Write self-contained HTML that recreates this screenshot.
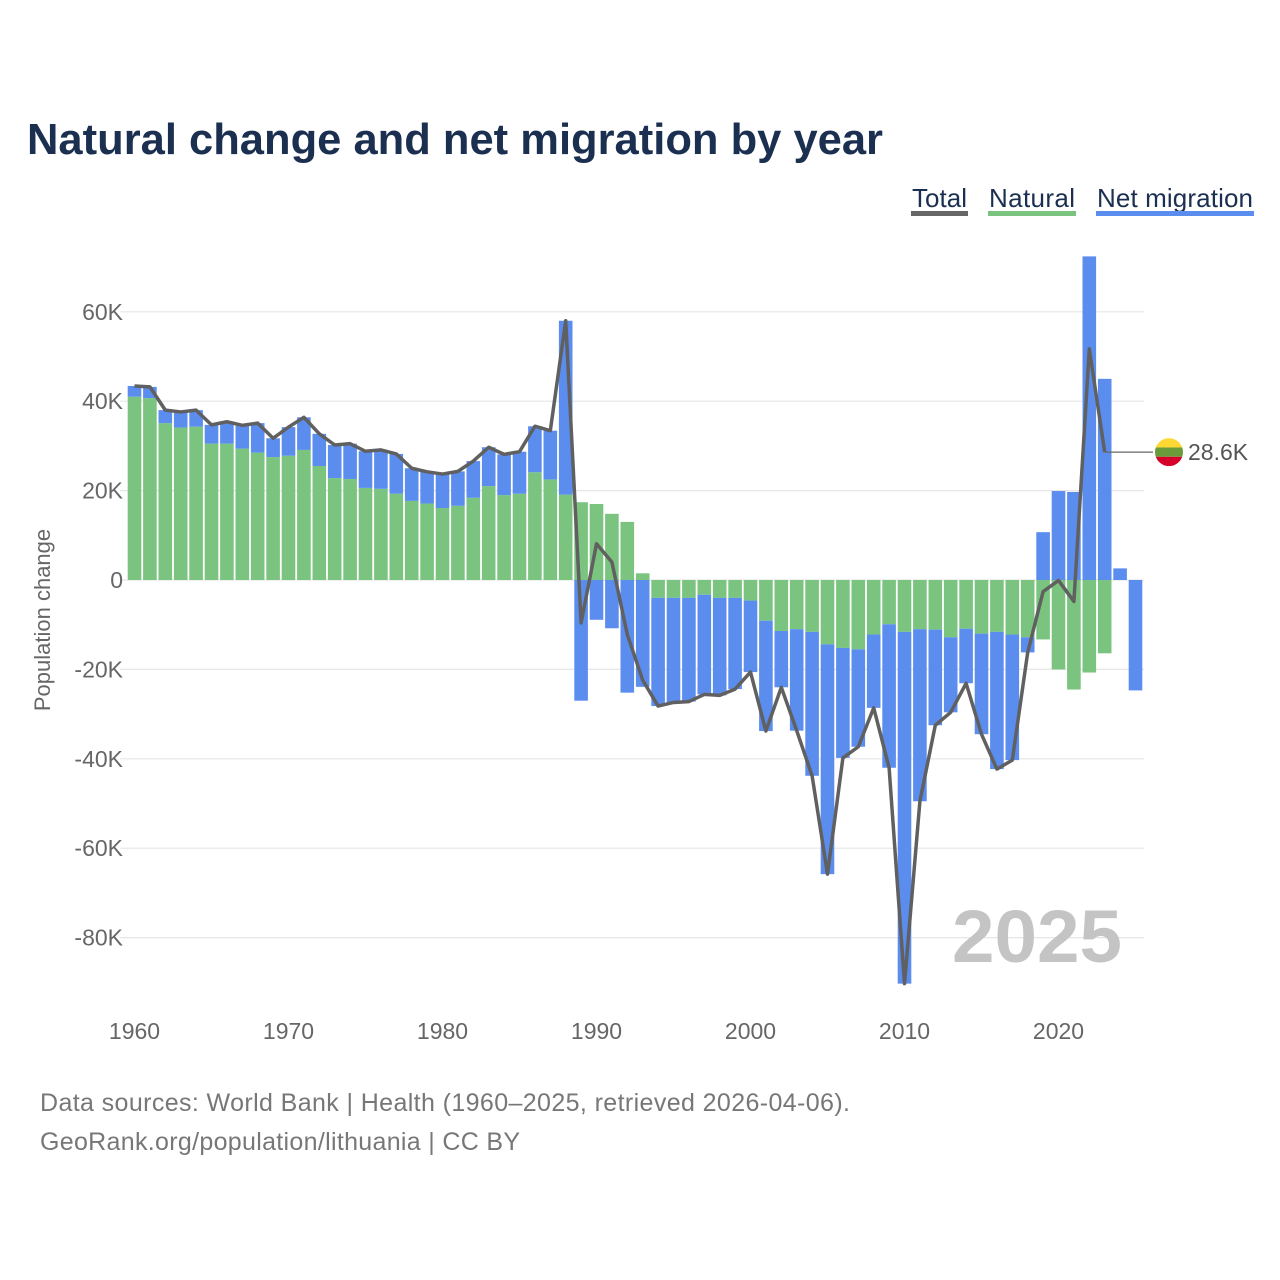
<!DOCTYPE html>
<html><head><meta charset="utf-8">
<style>
body{margin:0;background:#fff;}
svg{display:block;font-family:"Liberation Sans",sans-serif;}
</style></head>
<body>
<svg id="chart" width="1280" height="1280" viewBox="0 0 1280 1280">
<text x="27" y="154" font-size="44" font-weight="bold" fill="#1b2f50" textLength="856" lengthAdjust="spacingAndGlyphs">Natural change and net migration by year</text>
<g>
<g><text x="912" y="207" font-size="26" fill="#1b2f50" textLength="55">Total</text><rect x="911" y="211" width="57" height="5" fill="#666"/></g>
<g><text x="989" y="207" font-size="26" fill="#1b2f50" textLength="86">Natural</text><rect x="988" y="211" width="88" height="5" fill="#7bc47f"/></g>
<g><text x="1097" y="207" font-size="26" fill="#1b2f50" textLength="156">Net migration</text><rect x="1096" y="211" width="158" height="5" fill="#5b8def"/></g>
</g>
<g id="grid"></g>
<g id="yticks"></g>
<g id="xticks"></g>
<text x="0" y="0" transform="translate(50,620) rotate(-90)" text-anchor="middle" font-size="22" fill="#666">Population change</text>
<text x="1122" y="962" text-anchor="end" font-size="74" font-weight="bold" fill="#c4c4c4" textLength="170" lengthAdjust="spacingAndGlyphs">2025</text>
<g id="bars"></g>
<g id="lines"></g>
<text x="40" y="1111" font-size="25" fill="#777" textLength="810">Data sources: World Bank | Health (1960–2025, retrieved 2026-04-06).</text>
<text x="40" y="1150" font-size="25" fill="#777" textLength="480">GeoRank.org/population/lithuania | CC BY</text>
</svg>
<script>
const years=[];for(let y=1960;y<=2025;y++)years.push(y);
const natural=[41.0,40.7,35.1,34.1,34.3,30.5,30.5,29.4,28.5,27.5,27.8,29.1,25.5,22.8,22.6,20.6,20.4,19.3,17.7,17.1,16.1,16.6,18.4,21.0,19.0,19.3,24.1,22.5,19.1,17.4,17.0,14.8,13.0,1.5,-4.0,-4.0,-4.0,-3.3,-4.0,-4.0,-4.6,-9.1,-11.4,-11.0,-11.6,-14.4,-15.2,-15.5,-12.2,-9.9,-11.6,-11.0,-11.1,-12.8,-10.9,-12.0,-11.6,-12.2,-12.8,-13.3,-20.0,-24.5,-20.7,-16.4,null,null];
const migration=[2.4,2.5,2.9,3.5,3.7,4.2,4.9,5.2,6.6,4.2,6.4,7.3,7.2,7.4,7.9,8.2,8.7,8.9,7.3,7.1,7.6,7.7,8.2,8.7,9.1,9.4,10.3,10.9,38.9,-27.0,-8.9,-10.8,-25.2,-23.9,-24.2,-23.4,-23.2,-22.3,-21.8,-20.4,-16.0,-24.7,-12.6,-22.7,-32.2,-51.4,-24.6,-21.8,-16.4,-32.1,-78.7,-38.5,-21.4,-16.8,-12.2,-22.5,-30.7,-28.1,-3.4,10.7,19.9,19.7,72.4,45.0,2.6,-24.7];
const yTicks=[-80,-60,-40,-20,0,20,40,60];
const yTickLabels=["-80K","-60K","-40K","-20K","0","20K","40K","60K"];
const xTicks=[1960,1970,1980,1990,2000,2010,2020];
const lastLabel="28.6K";

const NS="http://www.w3.org/2000/svg";
const Y=v=>580-v*4.47;
const X=yr=>134.5+(yr-1960)*15.4;
function mk(tag,attrs,parent){const e=document.createElementNS(NS,tag);for(const k in attrs)e.setAttribute(k,attrs[k]);parent.appendChild(e);return e;}
const grid=document.getElementById('grid'),yt=document.getElementById('yticks'),xt=document.getElementById('xticks'),bars=document.getElementById('bars'),lines=document.getElementById('lines');
yTicks.forEach((t,i)=>{
 const l=mk('line',{x1:120,x2:1144,y1:Y(t),y2:Y(t),stroke:'#e6e6e6','stroke-width':1.2},grid);
 
 
 const tx=mk('text',{x:123,y:Y(t)+8,'text-anchor':'end','font-size':23,fill:'#666'},yt);
 tx.textContent=yTickLabels[i];
 
 
});
xTicks.forEach(t=>{
 const tx=mk('text',{x:X(t),y:1039,'text-anchor':'middle','font-size':23,fill:'#666'},xt);
 tx.textContent=t;
 
 
});
const bw=13.6;
years.forEach((yr,i)=>{
 const n=natural[i],m=migration[i];const cx=X(yr);
 let nv=n==null?0:n;
 if(n!=null){
  const r=mk('rect',{x:cx-bw/2,y:Math.min(Y(0),Y(n)),width:bw,height:Math.abs(Y(n)-Y(0)),fill:'#7bc47f'},bars);
  
  
 }
 if(m!=null){
  const base=(Math.sign(m)===Math.sign(nv))?nv:0;
  const r=mk('rect',{x:cx-bw/2,y:Math.min(Y(base),Y(base+m)),width:bw,height:Math.abs(Y(base+m)-Y(base)),fill:'#5b8def'},bars);
  
  
 }
});
let pts=[];let last=null;
years.forEach((yr,i)=>{if(natural[i]!=null&&migration[i]!=null){const v=natural[i]+migration[i];pts.push(X(yr)+','+Y(v));last=[X(yr),Y(v)];}});
const pl=mk('polyline',{points:pts.join(' '),fill:'none',stroke:'#606060','stroke-width':3.5,'stroke-linejoin':'round'},lines);


const cl=mk('line',{x1:last[0],y1:last[1],x2:1153,y2:last[1],stroke:'#666','stroke-width':1.2},lines);


const fy=last[1],fx=1169,r=14;
const fg=mk('g',{},lines);


const cp=mk('clipPath',{id:'fc'},fg);mk('circle',{cx:fx,cy:fy,r:r},cp);
mk('rect',{x:fx-r,y:fy-r,width:2*r,height:2*r/3,fill:'#fdd835','clip-path':'url(#fc)'},fg);
mk('rect',{x:fx-r,y:fy-r+2*r/3,width:2*r,height:2*r/3,fill:'#6a9c3a','clip-path':'url(#fc)'},fg);
mk('rect',{x:fx-r,y:fy-r+4*r/3,width:2*r,height:2*r/3,fill:'#d7002a','clip-path':'url(#fc)'},fg);
const lt=mk('text',{x:1188,y:fy+8,'font-size':23,fill:'#555'},lines);
lt.textContent=lastLabel;


</script>
</body></html>
